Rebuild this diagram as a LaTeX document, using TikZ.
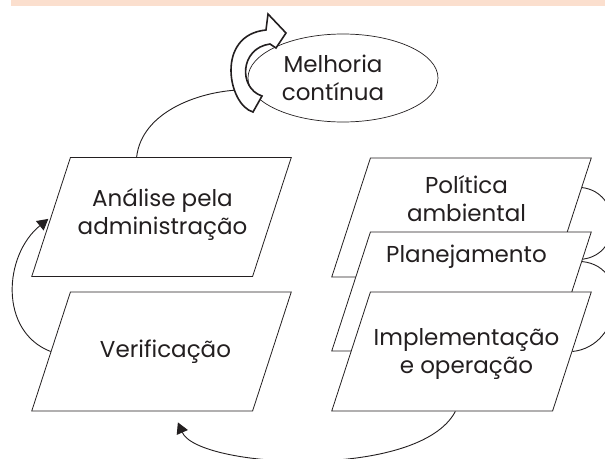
\documentclass[tikz,border=0pt]{standalone}
\usepackage{fontspec}
\setmainfont{Poppins}
\usetikzlibrary{shapes.geometric,arrows.meta,calc}
\definecolor{bandpeach}{RGB}{251,223,206}
\definecolor{inkgray}{RGB}{35,31,32}

\begin{document}
\begin{tikzpicture}[x=1pt,y=-1pt,
    every node/.style={font=\fontsize{23}{28}\selectfont, text=inkgray},
    stage/.style={trapezium, trapezium left angle=72, trapezium right angle=108,
      trapezium stretches body, draw=inkgray, line width=0.8pt, fill=white,
      text height=59.5pt, text depth=59.5pt, minimum width=259.5pt, inner sep=0pt},
    stagetext/.style={align=center},
    link/.style={draw=inkgray, line width=0.9pt},
    tip/.style={-{Triangle[length=11pt,width=12pt]}}]
    \useasboundingbox (0,0) rectangle (605,458);
    \clip (0,0) rectangle (605,458);
    \fill[bandpeach] (11,0) rectangle (605,6);
    % left column
    \node[stage, label={[stagetext,xshift=1pt,yshift=3pt]center:Análise pela\\administração}] (ana) at (161.5,217) {};
    \node[stage, label={[stagetext,xshift=4pt]center:Verificação}] (ver) at (161.5,351.5) {};
    % right column, stacked
    \node[stage, label={[stagetext,xshift=5pt,yshift=18.5pt]center:Política\\ambiental}] (pol) at (461.5,217.5) {};
    \node[stage, label={[stagetext,xshift=5pt,yshift=34.5pt]center:Planejamento}] (pla) at (461.5,291.5) {};
    \node[stage, label={[stagetext,xshift=5pt,yshift=-2pt]center:Implementação\\e operação}] (imp) at (461.5,351.5) {};
    % melhoria continua
    \node[ellipse, draw=inkgray, line width=0.7pt, minimum width=190pt, minimum height=88pt,
      label={[stagetext,xshift=-10pt]center:Melhoria\\contínua}] (mel) at (343,78) {};
    \coordinate (loopin) at (238,90);
    \draw[link] ($(ana.top left corner)!0.3!(ana.top right corner)$) .. controls +(5,-45) and +(-40,2) .. (loopin);
    % curved block arrow
    \filldraw[fill=white, draw=inkgray, line width=1.6pt, line join=miter]
      (253,112) .. controls (228,105) and (215,35) .. (266,30)
      -- (268,14) -- (286,33) -- (276,48) -- (270,44)
      .. controls (240,48) and (238,88) .. (262,96) -- cycle;
    % cycle connectors
    \draw[link, tip, shorten >=3pt] (ver.left side) .. controls +(-52,-20) and +(-47,38) .. (ana.left side);
    \draw[link, tip, shorten >=12pt] ($(imp.bottom left corner)!0.56!(imp.bottom right corner)$)
      .. controls +(-36,69) and +(25,57) .. ($(ver.bottom left corner)!0.64!(ver.bottom right corner)$);
    \draw[link] ($(pol.top right corner)!0.25!(pol.bottom right corner)$) .. controls +(40,5) and +(40,-5) .. ($(pla.top right corner)!0.23!(pla.bottom right corner)$);
    \draw[link] ($(pla.top right corner)!0.25!(pla.bottom right corner)$) .. controls +(50,5) and +(50,-5) .. (imp.right side);
\end{tikzpicture}
\end{document}
